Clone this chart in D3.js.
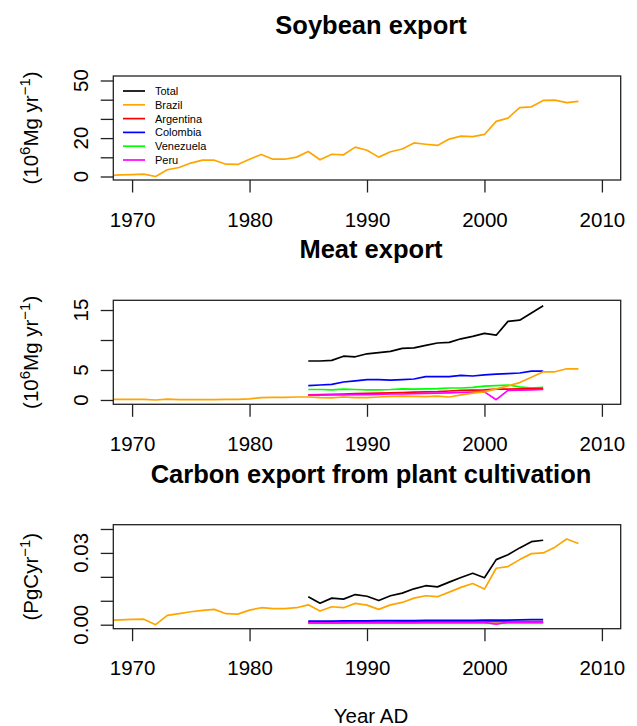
<!DOCTYPE html>
<html>
<head>
<meta charset="utf-8">
<script src="https://cdn.jsdelivr.net/npm/d3@7"></script>
<style>
  html, body { margin: 0; padding: 0; background: #fff; }
  svg { display: block; font-family: "Liberation Sans", Arial, Helvetica, sans-serif; }
</style>
</head>
<body>
<svg id="chart" width="637" height="726"></svg>
<script>
// ---------------- DATA ----------------
const brazilYears = d3.range(1968, 2009);          // 1968..2008
const countryYears = d3.range(1985, 2006);         // 1985..2005

const seriesNames = ["Total", "Brazil", "Argentina", "Colombia", "Venezuela", "Peru"];
const seriesColors = ["#000000", "#FFA500", "#FF0000", "#0000FF", "#00FF00", "#FF00FF"];

// Soybean export (10^6 Mg/yr), Brazil
const soyBrazil = [0.4, 0.8, 1.0, 1.2, 0.0, 3.5, 4.7, 7.0, 8.5, 8.5,
  6.4, 6.3, 9.0, 11.5, 9.0, 9.0, 10.1, 13.0, 8.7, 11.6,
  11.3, 15.3, 13.7, 10.1, 12.9, 14.3, 17.5, 16.8, 16.2, 19.5,
  21.0, 20.8, 21.9, 28.7, 30.4, 35.9, 36.3, 39.6, 39.8, 38.5, 39.1];

// Meat export (10^6 Mg/yr)
const meatBrazil = [0.1, 0.1, 0.1, 0.1, 0.0, 0.15, 0.05, 0.05, 0.05, 0.05,
  0.1, 0.1, 0.2, 0.4, 0.45, 0.45, 0.5, 0.5, 0.4, 0.35,
  0.5, 0.4, 0.4, 0.5, 0.6, 0.65, 0.6, 0.55, 0.65, 0.5,
  0.85, 1.15, 1.35, 1.85, 2.35, 2.9, 3.8, 4.7, 4.7, 5.2, 5.2];
const meatTotal = [6.5, 6.5, 6.6, 7.3, 7.2, 7.7, 7.9, 8.1, 8.6, 8.7, 9.1,
  9.5, 9.6, 10.2, 10.6, 11.1, 10.8, 13.1, 13.3, 14.5, 15.7];
const meatColombia = [2.4, 2.5, 2.6, 3.0, 3.2, 3.4, 3.4, 3.3, 3.4, 3.5, 3.9,
  3.9, 3.9, 4.1, 4.0, 4.2, 4.3, 4.4, 4.5, 4.8, 4.8];
const meatVenezuela = [1.75, 1.75, 1.7, 1.8, 1.75, 1.7, 1.7, 1.75, 1.85, 1.8, 1.85,
  1.9, 2.0, 2.0, 2.1, 2.3, 2.4, 2.5, 2.2, 2.0, 2.1];
const meatArgentina = [0.85, 0.9, 0.95, 1.0, 1.05, 1.1, 1.15, 1.2, 1.25, 1.3, 1.35,
  1.4, 1.5, 1.6, 1.65, 1.7, 1.8, 1.8, 1.85, 1.9, 1.9];
const meatPeru = [0.8, 0.8, 0.85, 0.85, 0.9, 0.9, 0.95, 1.0, 1.0, 1.05, 1.1,
  1.15, 1.2, 1.25, 1.3, 1.35, 0.05, 1.6, 1.65, 1.7, 1.75];

// Carbon export from plant cultivation (Pg C/yr)
const carbonBrazil = [0.0018, 0.0020, 0.0022, 0.0023, 0.0000, 0.0039, 0.0046, 0.0054, 0.0060, 0.0064,
  0.0046, 0.0044, 0.0061, 0.0071, 0.0067, 0.0067, 0.0071, 0.0083, 0.0057, 0.0075,
  0.0071, 0.0089, 0.0082, 0.0064, 0.0083, 0.0093, 0.0111, 0.0121, 0.0117, 0.0136,
  0.0156, 0.0172, 0.0149, 0.0236, 0.0243, 0.0272, 0.0297, 0.0300, 0.0324, 0.0358, 0.0339];
const carbonTotal = [0.0117, 0.0090, 0.0111, 0.0107, 0.0126, 0.0119, 0.0101, 0.0121, 0.0132, 0.0150, 0.0163,
  0.0158, 0.0178, 0.0197, 0.0215, 0.0196, 0.0272, 0.0292, 0.0321, 0.0347, 0.0353];
const carbonColombia = [0.0015, 0.0015, 0.0015, 0.0016, 0.0016, 0.0016, 0.0017, 0.0017, 0.0017, 0.0017, 0.0018,
  0.0018, 0.0018, 0.0018, 0.0018, 0.0019, 0.0019, 0.0019, 0.0020, 0.0021, 0.0021];
const carbonArgentina = [0.0010, 0.0010, 0.0010, 0.0011, 0.0011, 0.0011, 0.0011, 0.0011, 0.0012, 0.0012, 0.0012,
  0.0012, 0.0012, 0.0012, 0.0013, 0.0013, 0.0013, 0.0013, 0.0013, 0.0013, 0.0013];
const carbonVenezuela = [0.0005, 0.0005, 0.0005, 0.0005, 0.0005, 0.0005, 0.0005, 0.0005, 0.0005, 0.0005, 0.0005,
  0.0005, 0.0005, 0.0005, 0.0005, 0.0005, 0.0005, 0.0005, 0.0005, 0.0005, 0.0005];
const carbonPeru = [0.0008, 0.0008, 0.0008, 0.0008, 0.0009, 0.0009, 0.0009, 0.0009, 0.0009, 0.0009, 0.0010,
  0.0010, 0.0010, 0.0010, 0.0010, 0.0010, 0.0002, 0.0011, 0.0011, 0.0011, 0.0011];

const xTicks = [1970, 1980, 1990, 2000, 2010];

const panelTitles = ["Soybean export", "Meat export", "Carbon export from plant cultivation"];

// ---------------- LAYOUT ----------------
const svg = d3.select("#chart");
svg.append("rect").attr("width", 637).attr("height", 726).attr("fill", "#fff");

const left = 113.3, right = 620.7, boxH = 104;
const tops = [76, 300.3, 524.7];
const tickFont = 20.5, titleFont = 25.5;

const x = d3.scaleLinear().domain([1968.4, 2011.6]).range([left, right]);

const panels = [
  {
    yDomain: [-1.82, 52.34], yTicks: [0, 10, 20, 30, 40, 50], yLabels: [0, 20, 50], fmt: d => String(d),
    ylab: "mg",
    series: [
      {name: "Brazil", years: brazilYears, values: soyBrazil}
    ]
  },
  {
    yDomain: [-0.72, 16.62], yTicks: [0, 5, 10, 15], yLabels: [0, 5, 15], fmt: d => String(d),
    ylab: "mg",
    series: [
      {name: "Total", years: countryYears, values: meatTotal},
      {name: "Colombia", years: countryYears, values: meatColombia},
      {name: "Venezuela", years: countryYears, values: meatVenezuela},
      {name: "Argentina", years: countryYears, values: meatArgentina},
      {name: "Peru", years: countryYears, values: meatPeru},
      {name: "Brazil", years: brazilYears, values: meatBrazil}
    ]
  },
  {
    yDomain: [-0.00167, 0.04179], yTicks: [0, 0.01, 0.02, 0.03, 0.04], yLabels: [0, 0.03], fmt: d3.format(".2f"),
    ylab: "pg",
    series: [
      {name: "Total", years: countryYears, values: carbonTotal},
      {name: "Brazil", years: brazilYears, values: carbonBrazil},
      {name: "Venezuela", years: countryYears, values: carbonVenezuela},
      {name: "Argentina", years: countryYears, values: carbonArgentina},
      {name: "Peru", years: countryYears, values: carbonPeru},
      {name: "Colombia", years: countryYears, values: carbonColombia}
    ]
  }
];

const colorOf = d3.scaleOrdinal().domain(seriesNames).range(seriesColors);

panels.forEach((p, i) => {
  const top = tops[i], bottom = top + boxH;
  const y = d3.scaleLinear().domain(p.yDomain).range([bottom, top]);
  const g = svg.append("g");

  const clipId = "clip" + i;
  svg.append("clipPath").attr("id", clipId)
    .append("rect").attr("x", left).attr("y", top).attr("width", right - left).attr("height", boxH);

  // lines
  const line = d3.line().x(d => x(d[0])).y(d => y(d[1]));
  const lg = g.append("g").attr("clip-path", `url(#${clipId})`);
  p.series.forEach(s => {
    const pts = s.years.map((yr, k) => [yr, s.values[k]]);
    lg.append("path").attr("d", line(pts))
      .attr("fill", "none").attr("stroke", colorOf(s.name))
      .attr("stroke-width", 1.7).attr("stroke-linejoin", "round");
  });

  // box
  g.append("rect").attr("x", left).attr("y", top).attr("width", right - left).attr("height", boxH)
    .attr("fill", "none").attr("stroke", "#222").attr("stroke-width", 1.3);

  // x axis
  const xa = g.append("g").attr("transform", `translate(0,${bottom})`)
    .call(d3.axisBottom(x).tickValues(xTicks).tickSize(12.5).tickSizeOuter(0).tickPadding(0).tickFormat(d3.format("d")));
  xa.select(".domain").remove();
  xa.selectAll("line").attr("stroke", "#222").attr("stroke-width", 1.3);
  xa.selectAll("text").attr("y", 46.5).attr("dy", null)
    .attr("font-size", tickFont).attr("fill", "#000").attr("font-family", "Liberation Sans, Arial, sans-serif");

  // y axis
  const ya = g.append("g").attr("transform", `translate(${left},0)`)
    .call(d3.axisLeft(y).tickValues(p.yTicks).tickSize(12.6).tickSizeOuter(0).tickFormat(""));
  ya.select(".domain").remove();
  ya.selectAll("line").attr("stroke", "#222").attr("stroke-width", 1.3);
  p.yLabels.forEach(v => {
    g.append("text")
      .attr("transform", `translate(87.5,${y(v)}) rotate(-90)`)
      .attr("text-anchor", "middle")
      .attr("font-size", tickFont).attr("fill", "#000")
      .text(p.fmt(v));
  });

  // title
  svg.append("text").attr("x", 371).attr("y", top - 42)
    .attr("text-anchor", "middle").attr("font-size", titleFont).attr("font-weight", "bold")
    .attr("fill", "#000").text(panelTitles[i]);

  // y-axis label with superscripts
  const cy = top + boxH / 2;
  const t = svg.append("text")
    .attr("transform", `translate(37.5,${cy}) rotate(-90)`)
    .attr("text-anchor", "middle").attr("font-size", tickFont).attr("fill", "#000");
  if (p.ylab === "mg") {
    t.append("tspan").text("(10");
    t.append("tspan").attr("font-size", 15).attr("dy", -8).text("6");
    t.append("tspan").attr("dy", 8).text("Mg yr");
    t.append("tspan").attr("font-size", 15).attr("dy", -8).text("\u22121");
    t.append("tspan").attr("dy", 8).text(")");
  } else {
    t.append("tspan").text("(PgCyr");
    t.append("tspan").attr("font-size", 15).attr("dy", -8).text("\u22121");
    t.append("tspan").attr("dy", 8).text(")");
  }
});

// legend in first panel
const legend = svg.append("g");
const legY0 = 91, legStep = 13.8;
seriesNames.forEach((name, k) => {
  const yy = legY0 + k * legStep;
  legend.append("line").attr("x1", 123).attr("x2", 145).attr("y1", yy).attr("y2", yy)
    .attr("stroke", colorOf(name)).attr("stroke-width", 1.7);
  legend.append("text").attr("x", 155).attr("y", yy + 4)
    .attr("font-size", 11).attr("fill", "#000").text(name);
});

// x-axis title
svg.append("text").attr("x", 371).attr("y", 723).attr("text-anchor", "middle")
  .attr("font-size", tickFont).attr("fill", "#000").text("Year AD");
</script>
</body>
</html>
